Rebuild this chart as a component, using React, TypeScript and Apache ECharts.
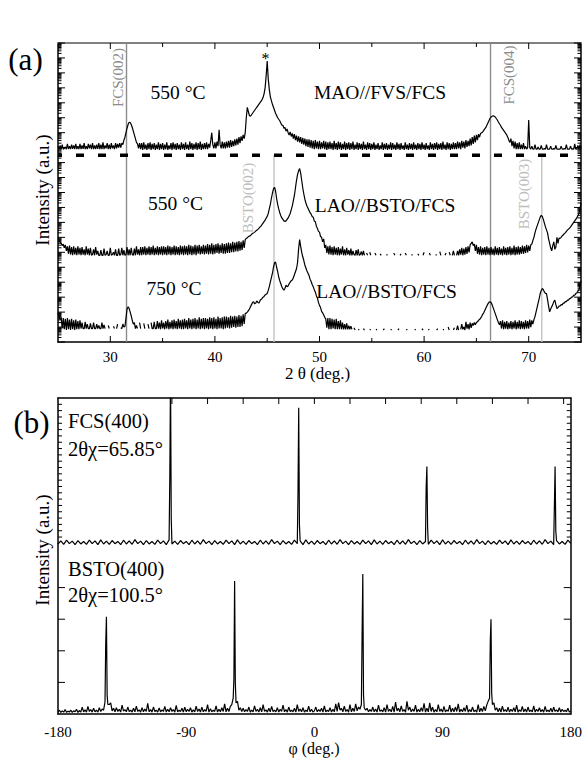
import React, { useEffect, useRef } from 'react';
import * as echarts from 'echarts';

const SERIF = '"Liberation Serif", "Times New Roman", Times, serif';

// ---------------- Panel (a): 2θ scans (log intensity in decades, curves offset) ----------------
const TT_START = 25;
const TT_STEP = 0.1;

const maoFvsFcs550 = [
  13.1, 12.9, 13.15, 12.9, 13.2, 12.9, 12.95, 13.05, 12.9, 13.25, 12.9, 13.1, 12.9, 13.2, 12.92, 13.15, 12.9, 13.25, 12.9, 13.1,
  12.9, 13.25, 12.9, 13.15, 12.92, 13.3, 12.9, 13.1, 12.9, 13.25, 12.95, 13.2, 12.9, 13.3, 12.9, 13.15, 12.9, 13.2, 12.92, 13.3,
  12.9, 13.2, 12.9, 13.35, 12.9, 13.15, 12.95, 13.3, 12.9, 13.2, 12.9, 13.3, 12.95, 13.15, 12.9, 13.3, 12.95, 13.25, 13.0, 13.3,
  13.0, 13.3, 13.2, 13.5, 13.7, 14.0, 14.3, 14.55, 14.7, 14.68, 14.55, 14.35, 14.1, 13.85, 13.6, 13.35, 13.25, 12.95, 13.3, 12.9,
  13.3, 12.85, 13.35, 12.9, 13.2, 12.85, 13.3, 12.9, 13.35, 12.85, 13.25, 12.9, 13.3, 12.85, 13.2, 12.9, 13.35, 12.85, 13.25, 12.9,
  13.3, 12.85, 13.2, 12.9, 13.35, 12.85, 13.15, 12.9, 13.3, 12.85, 13.35, 12.9, 13.25, 12.85, 13.3, 12.9, 13.2, 12.85, 13.35, 12.9,
  13.25, 12.85, 13.35, 12.9, 13.2, 12.85, 13.4, 12.9, 13.3, 12.85, 13.25, 12.9, 13.35, 12.85, 13.3, 12.9, 13.4, 12.85, 13.25, 12.9,
  13.3, 12.9, 13.35, 12.9, 13.25, 13.0, 13.45, 14.0, 13.2, 12.95, 13.35, 12.95, 13.4, 13.1, 14.2, 13.2, 12.95, 13.4, 12.95, 13.35,
  12.95, 13.4, 13.0, 13.45, 13.0, 13.5, 13.05, 13.45, 13.1, 13.55, 13.15, 13.6, 13.2, 13.7, 13.3, 13.75, 13.45, 13.85, 13.6, 14.0,
  15.0, 15.7, 15.4, 15.15, 15.1, 15.2, 15.3, 15.4, 15.5, 15.6, 15.7, 15.8, 15.9, 16.0, 16.1, 16.2, 16.35, 16.6, 17.0, 17.8,
  18.8, 17.6, 16.9, 16.4, 16.15, 15.9, 15.7, 15.5, 15.3, 15.15, 15.0, 14.9, 14.8, 14.65, 14.5, 14.5, 14.3, 14.35, 14.1, 14.25,
  14.0, 13.85, 14.05, 13.75, 13.95, 13.6, 13.9, 13.5, 13.8, 13.4, 13.75, 13.35, 13.7, 13.25, 13.65, 13.2, 13.6, 13.1, 13.55, 13.05,
  13.55, 13.0, 13.5, 12.95, 13.45, 12.9, 13.5, 12.95, 13.4, 12.9, 13.45, 12.9, 13.35, 12.95, 13.45, 12.9, 13.4, 12.85, 13.35, 12.9,
  13.4, 12.9, 13.3, 12.85, 13.45, 12.9, 13.3, 12.85, 13.4, 12.9, 13.35, 12.85, 13.25, 12.9, 13.4, 12.85, 13.3, 12.9, 13.35, 12.85,
  13.3, 12.9, 13.4, 12.85, 13.2, 12.9, 13.35, 12.85, 13.3, 12.9, 13.25, 12.85, 13.4, 12.9, 13.2, 12.85, 13.35, 12.9, 13.3, 12.85,
  13.25, 12.9, 13.35, 12.85, 13.2, 12.9, 13.3, 12.85, 13.15, 12.9, 13.35, 12.85, 13.25, 12.9, 13.3, 12.85, 13.2, 12.9, 13.35, 12.85,
  13.3, 12.9, 13.2, 12.85, 13.35, 12.9, 13.25, 12.85, 13.3, 12.9, 13.15, 12.85, 13.35, 12.9, 13.2, 12.85, 13.3, 12.9, 13.25, 12.85,
  13.35, 12.9, 13.2, 12.85, 13.3, 12.9, 13.25, 12.85, 13.35, 12.9, 13.2, 12.85, 13.3, 12.9, 13.15, 12.85, 13.35, 12.9, 13.25, 12.85,
  13.3, 12.9, 13.35, 12.85, 13.25, 12.9, 13.3, 12.85, 13.4, 12.9, 13.2, 12.85, 13.35, 12.9, 13.3, 12.85, 13.25, 12.9, 13.35, 12.9,
  13.3, 12.9, 13.4, 12.95, 13.35, 12.9, 13.45, 13.0, 13.4, 12.95, 13.5, 13.05, 13.45, 13.1, 13.6, 13.15, 13.7, 13.25, 13.8, 13.35,
  13.85, 13.5, 13.9, 13.7, 13.95, 14.0, 14.05, 14.15, 14.25, 14.35, 14.5, 14.65, 14.8, 14.95, 15.05, 15.1, 15.13, 15.1, 15.05, 14.95,
  14.85, 14.72, 14.6, 14.5, 14.35, 14.25, 14.15, 14.05, 13.95, 13.85, 13.7, 13.5, 13.35, 13.6, 13.1, 13.45, 12.95, 13.4, 12.9, 13.3,
  12.9, 13.35, 12.9, 13.2, 12.9, 13.3, 12.9, 13.1, 12.9, 13.0, 14.85, 13.0, 12.9, 13.1, 12.9, 12.9, 13.2, 12.9, 12.9, 13.05,
  12.9, 12.9, 13.15, 12.9, 12.9, 12.95, 12.9, 13.2, 12.9, 12.9, 12.9, 13.1, 12.9, 12.9, 12.95, 12.9, 13.15, 12.9, 12.9, 12.9,
  12.9, 13.1, 12.9, 12.9, 12.95, 12.9, 13.2, 12.9, 12.9, 12.9, 13.1, 12.9, 12.92, 12.9, 13.25, 12.9, 12.9, 13.15, 12.9, 13.2,
  12.95,
];

const laoBstoFcs550 = [
  6.93, 6.8, 6.7, 6.6, 6.45, 6.55, 6.3, 6.5, 6.1, 6.4, 5.9, 6.45, 5.85, 6.35, 5.8, 6.4, 5.85, 6.3, 5.8, 6.4,
  5.85, 6.3, 5.8, 6.35, 5.85, 6.2, 5.8, 6.4, 5.85, 6.25, 5.8, 6.3, 5.8, 5.85, 6.2, 5.8, 6.35, 5.85, 6.1, 5.8,
  5.8, 6.15, 5.8, 5.8, 6.25, 5.8, 5.85, 6.1, 5.8, 5.8, 6.3, 5.8, 5.85, 6.0, 5.8, 6.2, 5.8, 5.8, 6.25, 5.8,
  5.85, 6.3, 5.8, 6.15, 5.8, 5.85, 6.35, 5.8, 6.2, 5.8, 6.3, 5.85, 5.8, 6.25, 5.8, 6.4, 5.85, 6.2, 5.8, 6.35,
  5.8, 6.35, 5.85, 6.4, 5.8, 6.3, 5.85, 6.4, 5.8, 6.35, 5.85, 6.45, 5.8, 6.3, 5.85, 6.4, 5.8, 6.35, 5.85, 6.4,
  5.8, 6.4, 5.85, 6.35, 5.8, 6.45, 5.85, 6.4, 5.8, 6.35, 5.85, 6.45, 5.8, 6.4, 5.85, 6.35, 5.8, 6.45, 5.85, 6.4,
  5.8, 6.45, 5.85, 6.4, 5.8, 6.5, 5.85, 6.45, 5.8, 6.4, 5.85, 6.5, 5.8, 6.45, 5.9, 6.5, 5.85, 6.4, 5.9, 6.5,
  5.85, 6.45, 5.9, 6.55, 5.85, 6.5, 5.9, 6.6, 5.85, 6.5, 5.9, 6.55, 5.95, 6.6, 5.9, 6.5, 5.95, 6.6, 5.9, 6.55,
  5.9, 6.6, 5.95, 6.65, 5.95, 6.6, 6.0, 6.7, 6.0, 6.65, 6.05, 6.7, 6.05, 6.75, 6.1, 6.7, 6.15, 6.8, 6.3, 6.85,
  6.93, 6.98, 7.05, 7.08, 7.12, 7.2, 7.25, 7.3, 7.35, 7.42, 7.47, 7.53, 7.6, 7.68, 7.75, 7.85, 7.95, 8.05, 8.15, 8.28,
  8.4, 8.6, 8.9, 9.2, 9.6, 9.95, 10.25, 10.35, 10.1, 9.6, 9.2, 8.9, 8.65, 8.45, 8.3, 8.2, 8.1, 8.07, 8.1, 8.2,
  8.3, 8.45, 8.6, 8.85, 9.1, 9.45, 9.8, 10.3, 10.8, 11.2, 11.45, 11.6, 11.3, 10.8, 10.3, 9.9, 9.55, 9.3, 9.1, 8.95,
  8.8, 8.65, 8.55, 8.4, 8.35, 8.1, 8.05, 7.75, 7.6, 7.4, 7.35, 7.05, 7.0, 6.7, 6.9, 6.3, 6.5, 5.95, 6.4, 5.85,
  6.45, 5.85, 6.35, 5.8, 6.4, 5.85, 6.3, 5.8, 6.35, 5.8, 6.25, 5.85, 6.4, 5.8, 6.2, 5.8, 6.3, 5.85, 6.15, 5.8,
  6.25, 5.8, 6.1, 5.85, 5.8, 6.15, 5.8, 6.2, 5.8, 5.85, 6.05, 5.8, 6.1, 5.8, null, 5.95, 5.8, null, 6.0, 5.8,
  null, null, null, 5.95, 5.8, null, null, null, 5.9, 5.8, null, null, null, null, 5.85, 5.8, null, null, null, null,
  null, 5.95, 5.8, null, null, null, null, 5.8, 5.9, null, null, null, 5.95, 5.8, null, null, null, null, 5.85, 5.8,
  null, null, null, null, 5.9, 5.8, null, null, null, 5.8, 6.0, null, null, null, null, 5.95, 5.8, null, null, null,
  null, 5.85, 5.8, null, null, 6.05, 5.8, null, null, null, 5.8, 5.95, null, null, 6.0, 5.8, null, 5.8, 6.1, 5.8,
  null, 5.8, 6.1, 5.8, 6.2, 5.85, 6.3, 5.8, 6.25, 5.85, 6.35, 5.9, 6.4, 6.0, 6.5, 6.6, 6.7, 6.45, 6.55, 6.1,
  6.5, 5.9, 6.35, 5.85, 6.4, 5.8, 6.3, 5.85, 6.35, 5.8, 6.4, 5.85, 6.3, 5.8, 6.35, 5.85, 6.25, 5.8, 6.4, 5.85,
  6.3, 5.8, 6.35, 5.85, 6.25, 5.8, 6.4, 5.85, 6.3, 5.8, 6.35, 5.85, 6.4, 5.8, 6.3, 5.85, 6.45, 5.8, 6.35, 5.85,
  6.4, 5.85, 6.35, 5.9, 6.45, 5.9, 6.4, 5.95, 6.5, 6.0, 6.45, 6.1, 6.5, 6.55, 6.8, 7.0, 7.3, 7.55, 7.75, 7.95,
  8.15, 8.35, 8.47, 8.4, 8.2, 7.95, 7.7, 7.5, 7.3, 6.9, 6.6, 6.3, 6.1, 6.45, 6.7, 6.2, 6.35, 7.0, 6.6, 6.95,
  6.93, 7.0, 7.1, 7.15, 7.25, 7.3, 7.4, 7.48, 7.55, 7.62, 7.7, 7.8, 7.9, 8.0, 8.1, 8.2, 8.3, 8.45, 8.6, 8.9,
  9.3,
];

const laoBstoFcs750 = [
  1.93, 1.7, 1.5, 1.65, 0.9, 1.6, 0.85, 1.55, 0.8, 1.6, 0.85, 1.5, 0.8, 1.55, 0.85, 1.45, 0.8, 1.5, 0.85, 1.4,
  0.85, 1.45, 0.9, 1.3, 0.9, 0.9, 1.35, 0.9, 1.2, 0.9, 0.9, 1.25, 0.9, 0.9, 1.3, 0.9, 0.9, 1.2, 0.9, 1.1,
  0.9, 0.9, 1.3, 0.9, 1.15, 0.9, null, null, 1.1, 0.9, null, null, null, 1.05, 0.9, null, 0.9, 1.2, null, null,
  0.95, 0.9, 1.2, 1.0, 1.05, 1.6, 2.2, 2.35, 2.25, 2.0, 1.75, 1.45, 1.2, 1.3, 0.9, 1.1, 0.9, null, 1.3, 0.9,
  null, null, 1.25, 0.9, null, null, 1.2, 0.9, null, 1.3, 0.9, 0.9, 1.35, 0.9, 0.9, 1.4, 0.9, 1.3, 0.85, 1.45,
  0.9, 1.3, 0.85, 1.4, 0.9, 1.5, 0.85, 1.35, 0.9, 1.45, 0.85, 1.5, 0.9, 1.4, 0.85, 1.55, 0.9, 1.45, 0.85, 1.5,
  0.85, 1.55, 0.9, 1.45, 0.85, 1.6, 0.9, 1.5, 0.85, 1.55, 0.9, 1.6, 0.85, 1.5, 0.9, 1.65, 0.85, 1.55, 0.9, 1.6,
  0.85, 1.6, 0.9, 1.55, 0.85, 1.65, 0.9, 1.6, 0.85, 1.65, 0.9, 1.55, 0.85, 1.7, 0.9, 1.6, 0.9, 1.65, 0.85, 1.7,
  0.9, 1.7, 0.95, 1.65, 0.9, 1.75, 0.95, 1.7, 1.0, 1.75, 0.95, 1.7, 1.0, 1.8, 1.0, 1.75, 1.05, 1.85, 1.2, 1.9,
  1.93, 2.0, 2.1, 2.2, 2.35, 2.5, 2.65, 2.7, 2.55, 2.6, 2.75, 2.65, 2.6, 2.75, 2.85, 2.9, 3.0, 3.05, 3.15, 3.2,
  3.25, 3.45, 3.7, 4.0, 4.3, 4.6, 5.0, 5.3, 5.35, 5.0, 4.7, 4.35, 4.1, 3.9, 3.7, 3.55, 3.47, 3.6, 3.8, 3.7,
  3.75, 3.9, 4.0, 4.1, 4.15, 4.3, 4.5, 4.7, 4.9, 5.3, 6.2, 6.85, 6.4, 6.0, 5.7, 5.45, 5.15, 4.95, 4.75, 4.6,
  4.45, 4.2, 4.05, 3.85, 3.7, 3.5, 3.35, 3.1, 2.95, 2.65, 2.45, 2.3, 2.05, 1.95, 1.8, 1.65, 1.55, 0.95, 1.6, 0.85,
  1.6, 0.85, 1.55, 0.9, 1.5, 0.85, 1.55, 0.85, 1.4, 0.85, 1.45, 0.85, 1.3, 0.85, 1.2, 0.85, 1.25, 0.85, 1.1, 0.85,
  1.05, 0.85, null, 0.95, 0.8, null, null, 0.85, 0.8, null, null, null, 0.9, 0.8, null, null, null, null, 0.85, 0.8,
  null, null, null, null, 0.85, 0.8, null, null, null, null, null, 0.8, 0.9, null, null, null, null, null, 0.85, 0.8,
  null, null, null, null, null, 0.8, 0.9, null, null, null, null, null, null, 0.85, 0.8, null, null, null, null, null,
  null, 0.85, 0.8, null, null, null, null, null, 0.9, 0.8, null, null, null, null, 0.8, 0.85, null, null, null, null,
  null, null, 0.8, 0.9, null, null, null, null, 0.85, 0.8, null, null, null, 1.0, 0.8, null, null, null, 0.8, 0.95,
  null, 0.8, 1.1, 0.8, null, 0.85, 1.2, 0.85, 1.0, 0.8, 1.35, 0.9, 1.2, 0.85, 1.3, 0.95, 1.25, 1.1, 1.3, 1.15,
  1.3, 1.35, 1.45, 1.5, 1.6, 1.7, 1.85, 1.95, 2.1, 2.25, 2.4, 2.55, 2.65, 2.69, 2.65, 2.5, 2.3, 2.1, 1.9, 1.7,
  1.5, 1.3, 1.15, 1.4, 0.9, 1.45, 0.85, 1.35, 0.9, 1.4, 0.85, 1.3, 0.9, 1.4, 0.85, 1.35, 0.9, 1.45, 0.85, 1.35,
  0.9, 1.45, 0.85, 1.4, 0.9, 1.35, 0.85, 1.45, 0.9, 1.4, 0.9, 1.5, 1.0, 1.45, 1.2, 1.5, 1.7, 2.0, 2.3, 2.6,
  2.9, 3.24, 3.45, 3.58, 3.5, 3.35, 3.25, 3.24, 2.85, 2.4, 2.02, 2.2, 2.35, 2.5, 2.7, 2.8, 2.5, 2.24, 2.3, 2.4,
  2.42, 2.5, 2.48, 2.6, 2.6, 2.7, 2.7, 2.8, 2.8, 2.9, 2.92, 3.0, 3.02, 3.12, 3.14, 3.24, 3.28, 3.4, 3.47, 3.75,
  4.1,
];

const refLinesA = [
  { x: 31.55, top: 20, color: '#8c8c8c' },
  { x: 66.35, top: 20, color: '#8c8c8c' },
  { x: 45.65, top: 12.5, color: '#c4c4c4' },
  { x: 71.25, top: 12.5, color: '#c4c4c4' },
];
const separatorA = 12.5;
const xTicksA = [30, 35, 40, 45, 50, 55, 60, 65, 70];
const DECADES_A = 20;
const LOG_MINOR = [2, 3, 4, 5, 6, 7, 8, 9];

// ---------------- Panel (b): φ scans ----------------
const PHI_START = -180;
const FCS_STEP = 2;
const BSTO_STEP = 1;

const fcs400Base = [
  5.38, 5.48, 5.37, 5.50, 5.39, 5.47, 5.36, 5.49, 5.38, 5.46,
  5.37, 5.50, 5.39, 5.48, 5.36, 5.51, 5.38, 5.47, 5.37, 5.49,
  5.39, 5.46, 5.36, 5.50, 5.38, 5.48, 5.37, 5.52, 5.39, 5.47,
  5.36, 5.49, 5.38, 5.46, 5.37, 5.50, 5.39, 5.48, 5.36, 5.51,
  5.38, 5.47, 5.37, 5.49, 5.39, 5.46, 5.36, 5.50, 5.38, 5.48,
  5.37, 5.52, 5.39, 5.47, 5.36, 5.49, 5.38, 5.46, 5.37, 5.50,
  5.39, 5.48, 5.36, 5.51, 5.38, 5.47, 5.37, 5.49, 5.39, 5.46,
  5.36, 5.50, 5.38, 5.48, 5.37, 5.52, 5.39, 5.47, 5.36, 5.49,
  5.38, 5.46, 5.37, 5.50, 5.39, 5.48, 5.36, 5.51, 5.38, 5.47,
  5.37, 5.49, 5.39, 5.46, 5.36, 5.50, 5.38, 5.48, 5.37, 5.52,
  5.39, 5.47, 5.36, 5.49, 5.38, 5.46, 5.37, 5.50, 5.39, 5.48,
  5.36, 5.51, 5.38, 5.47, 5.37, 5.49, 5.39, 5.46, 5.36, 5.50,
  5.38, 5.48, 5.37, 5.52, 5.39, 5.47, 5.36, 5.49, 5.38, 5.46,
  5.37, 5.50, 5.39, 5.48, 5.36, 5.51, 5.38, 5.47, 5.37, 5.49,
  5.39, 5.46, 5.36, 5.50, 5.38, 5.48, 5.37, 5.52, 5.39, 5.47,
  5.36, 5.49, 5.38, 5.46, 5.37, 5.50, 5.39, 5.48, 5.36, 5.51,
  5.38, 5.47, 5.37, 5.49, 5.39, 5.46, 5.36, 5.50, 5.38, 5.48,
  5.37, 5.52, 5.39, 5.47, 5.36, 5.49, 5.38, 5.46, 5.37, 5.50,
  5.40,
];
const fcs400Peaks = [
  [-101.5, 7.5], [-101, 10.8], [-100.5, 6.2],
  [-11.5, 7.0], [-11, 9.69], [-10.5, 6.0],
  [78.5, 7.2], [79, 7.83], [79.5, 5.9],
  [168.5, 6.56], [169, 7.83], [169.5, 5.8],
];

const bsto400Base = [
  0.06, 0.12, 0.05, 0.10, 0.06, 0.14, 0.05, 0.09, 0.06, 0.12,
  0.05, 0.10, 0.07, 0.15, 0.05, 0.11, 0.06, 0.22, 0.07, 0.13,
  0.06, 0.24, 0.08, 0.14, 0.06, 0.18, 0.07, 0.12, 0.06, 0.20,
  0.08, 0.16, 0.12, 0.38, 0.45, 0.30, 0.30, 0.35, 0.10, 0.18,
  0.07, 0.20, 0.08, 0.15, 0.06, 0.28, 0.09, 0.14, 0.07, 0.22,
  0.08, 0.12, 0.06, 0.18, 0.07, 0.25, 0.08, 0.13, 0.06, 0.20,
  0.07, 0.16, 0.08, 0.34, 0.07, 0.14, 0.06, 0.22, 0.08, 0.12,
  0.06, 0.19, 0.07, 0.13, 0.08, 0.24, 0.06, 0.15, 0.07, 0.20,
  0.08, 0.14, 0.06, 0.27, 0.07, 0.12, 0.08, 0.18, 0.06, 0.22,
  0.07, 0.15, 0.08, 0.20, 0.06, 0.13, 0.07, 0.25, 0.08, 0.16,
  0.06, 0.22, 0.07, 0.14, 0.08, 0.30, 0.06, 0.17, 0.07, 0.12,
  0.08, 0.26, 0.06, 0.15, 0.07, 0.20, 0.08, 0.32, 0.07, 0.18,
  0.08, 0.24, 0.30, 0.50, 0.40, 0.35, 0.40, 0.12, 0.20, 0.08,
  0.18, 0.07, 0.14, 0.08, 0.22, 0.06, 0.12, 0.07, 0.26, 0.08,
  0.15, 0.06, 0.20, 0.07, 0.30, 0.08, 0.13, 0.06, 0.18, 0.07,
  0.24, 0.08, 0.12, 0.07, 0.20, 0.06, 0.15, 0.08, 0.28, 0.07,
  0.14, 0.06, 0.22, 0.08, 0.12, 0.07, 0.18, 0.06, 0.30, 0.08,
  0.16, 0.07, 0.20, 0.06, 0.12, 0.08, 0.25, 0.07, 0.15, 0.06,
  0.10, 0.22, 0.07, 0.14, 0.08, 0.18, 0.06, 0.26, 0.07, 0.12,
  0.08, 0.20, 0.06, 0.15, 0.07, 0.32, 0.08, 0.36, 0.12, 0.18,
  0.07, 0.25, 0.08, 0.14, 0.06, 0.30, 0.07, 0.18, 0.08, 0.32,
  0.10, 0.22, 0.15, 0.30, 0.40, 0.20, 0.12, 0.18, 0.07, 0.14,
  0.08, 0.22, 0.07, 0.16, 0.06, 0.28, 0.08, 0.13, 0.07, 0.20,
  0.06, 0.30, 0.08, 0.15, 0.07, 0.24, 0.06, 0.38, 0.10, 0.18,
  0.07, 0.26, 0.08, 0.14, 0.06, 0.40, 0.12, 0.22, 0.07, 0.16,
  0.08, 0.28, 0.06, 0.15, 0.07, 0.20, 0.08, 0.34, 0.06, 0.18,
  0.07, 0.35, 0.08, 0.22, 0.06, 0.14, 0.07, 0.30, 0.08, 0.16,
  0.06, 0.24, 0.07, 0.13, 0.08, 0.28, 0.06, 0.18, 0.07, 0.22,
  0.08, 0.32, 0.06, 0.15, 0.07, 0.20, 0.08, 0.28, 0.06, 0.14,
  0.07, 0.22, 0.08, 0.12, 0.06, 0.30, 0.07, 0.18, 0.08, 0.24,
  0.10, 0.28, 0.40, 0.50, 0.40, 0.30, 0.35, 0.12, 0.20, 0.07,
  0.18, 0.06, 0.25, 0.08, 0.14, 0.07, 0.22, 0.06, 0.15, 0.08,
  0.20, 0.07, 0.28, 0.06, 0.13, 0.08, 0.24, 0.07, 0.16, 0.06,
  0.22, 0.08, 0.12, 0.07, 0.26, 0.06, 0.15, 0.08, 0.20, 0.07,
  0.14, 0.06, 0.24, 0.08, 0.12, 0.07, 0.18, 0.06, 0.22, 0.08,
  0.13, 0.07, 0.20, 0.06, 0.15, 0.08, 0.12, 0.07, 0.18, 0.06,
  0.10,
];
const bsto400Peaks = [
  [-146.5, 2.2], [-146, 3.08], [-145.5, 0.6],
  [-56.5, 1.1], [-56, 4.21], [-55.5, 1.0],
  [33.5, 2.5], [34, 4.43], [34.5, 0.6],
  [123.5, 2.29], [124, 3.0], [124.5, 0.65],
];

const xTicksBTop = [-100, -75, -50, -25, 0, 25, 50, 75, 100, 125, 150, 175];
const yTicksBsto = [1, 2, 3, 4];
const yTicksFcs = [5.6, 5.8, 6.0, 6.2, 6.4, 6.6, 6.8, 7.0, 7.2, 7.4, 7.6, 7.8, 8.0, 8.2, 8.4, 8.6, 8.8, 9.0, 9.2, 9.4, 9.6, 9.8];

// ---------------- helpers ----------------
const toPairs = (arr: (number | null)[]) =>
  arr.map((v, i) => [+(TT_START + i * TT_STEP).toFixed(2), v]);

const mergePhi = (base: number[], step: number, peaks: number[][]) => {
  const m = new Map<number, number>();
  base.forEach((v, i) => m.set(PHI_START + i * step, v));
  peaks.forEach(([x, y]) => m.set(x, y));
  return [...m.entries()].sort((a, b) => a[0] - b[0]).map(([x, y]) => [x, y]);
};

function tickSeries(xIdx: number, yIdx: number, xr: number[], yr: number[], data: number[][]) {
  return {
    type: 'custom',
    xAxisIndex: xIdx,
    yAxisIndex: yIdx,
    silent: true,
    z: 6,
    data,
    renderItem: (_params: any, api: any) => {
      const v = api.value(0);
      const len = api.value(1);
      const kind = api.value(2);
      const style = { stroke: '#000', lineWidth: 1 };
      const children: any[] = [];
      if (kind === 0) {
        const a = api.coord([xr[0], v]);
        const b = api.coord([xr[1], v]);
        children.push({ type: 'line', shape: { x1: a[0], y1: a[1], x2: a[0] + len, y2: a[1] }, style });
        children.push({ type: 'line', shape: { x1: b[0] - len, y1: b[1], x2: b[0], y2: b[1] }, style });
      } else {
        const a = api.coord([v, yr[0]]);
        const b = api.coord([v, yr[1]]);
        if (kind === 1) children.push({ type: 'line', shape: { x1: a[0], y1: a[1], x2: a[0], y2: a[1] - len }, style });
        children.push({ type: 'line', shape: { x1: b[0], y1: b[1], x2: b[0], y2: b[1] + len }, style });
      }
      return { type: 'group', children };
    },
  };
}

const txt = (text: string, x: number, y: number, size: number, o: any = {}) => ({
  type: 'text',
  x,
  y,
  rotation: o.rot || 0,
  z: 100,
  silent: true,
  style: {
    text,
    fill: o.color || '#000',
    font: `${size}px ${SERIF}`,
    fontSize: size,
    fontFamily: SERIF,
    align: o.align || 'center',
    textAlign: o.align || 'center',
    verticalAlign: 'middle',
    textVerticalAlign: 'middle',
  },
});

function buildOption() {
  const lineBase = {
    type: 'line',
    showSymbol: false,
    symbol: 'none',
    silent: true,
    animation: false,
    connectNulls: false,
  };
  const curveStyle = { color: '#000', width: 1.2 };

  const yTicksA: number[][] = [];
  for (let d = 0; d <= DECADES_A; d++) {
    yTicksA.push([d, 7, 0]);
    if (d < DECADES_A) LOG_MINOR.forEach((k) => yTicksA.push([d + Math.log10(k), 3.5, 0]));
  }
  const xTicksAData = xTicksA.map((t) => [t, t % 10 === 0 ? 6 : 4, 1]);

  const bTicks: number[][] = [
    ...xTicksBTop.map((t) => [t, 6, 2]),
    ...yTicksBsto.map((t) => [t, 7, 0]),
    ...yTicksFcs.map((t) => [t, 4, 0]),
  ];

  const axisLineBlack = { onZero: false, lineStyle: { color: '#000', width: 1.5 } };
  const hidden = { axisTick: { show: false }, axisLabel: { show: false }, splitLine: { show: false } };
  const labelStyle = { color: '#000', fontSize: 15, fontFamily: SERIF };

  return {
    animation: false,
    backgroundColor: '#ffffff',
    grid: [
      { left: 58, top: 43, width: 523, height: 299 },
      { left: 58, top: 398, width: 516, height: 316 },
    ],
    xAxis: [
      {
        gridIndex: 0, type: 'value', min: 25, max: 75, interval: 5, position: 'bottom',
        axisLine: axisLineBlack, axisTick: { show: false }, splitLine: { show: false },
        axisLabel: { ...labelStyle, margin: 7, formatter: (v: number) => (v % 10 === 0 ? String(v) : '') },
      },
      {
        gridIndex: 0, type: 'value', min: 25, max: 75, position: 'top',
        axisLine: { onZero: false, lineStyle: { color: '#808080', width: 2 } }, ...hidden,
      },
      {
        gridIndex: 1, type: 'value', min: -180, max: 180, interval: 90, position: 'bottom',
        axisLine: axisLineBlack, axisTick: { show: false }, splitLine: { show: false },
        axisLabel: { ...labelStyle, margin: 10 },
      },
      {
        gridIndex: 1, type: 'value', min: -180, max: 180, position: 'top',
        axisLine: axisLineBlack, ...hidden,
      },
    ],
    yAxis: [
      { gridIndex: 0, type: 'value', min: 0, max: 20, position: 'left', axisLine: axisLineBlack, ...hidden },
      { gridIndex: 0, type: 'value', min: 0, max: 20, position: 'right', axisLine: axisLineBlack, ...hidden },
      { gridIndex: 1, type: 'value', min: 0, max: 10, position: 'left', axisLine: axisLineBlack, ...hidden },
      { gridIndex: 1, type: 'value', min: 0, max: 10, position: 'right', axisLine: axisLineBlack, ...hidden },
    ],
    series: [
      ...refLinesA.map((r) => ({
        ...lineBase, xAxisIndex: 0, yAxisIndex: 0, z: 1,
        lineStyle: { color: r.color, width: 1.4 },
        data: [[r.x, 0], [r.x, r.top]],
      })),
      {
        ...lineBase, xAxisIndex: 0, yAxisIndex: 0, z: 3,
        lineStyle: { color: '#000', width: 3.5, type: [8, 14], dashOffset: 4, cap: 'butt' },
        data: [[25, separatorA], [75, separatorA]],
      },
      { ...lineBase, name: 'MAO//FVS/FCS 550', xAxisIndex: 0, yAxisIndex: 0, z: 2, lineStyle: curveStyle, data: toPairs(maoFvsFcs550) },
      { ...lineBase, name: 'LAO//BSTO/FCS 550', xAxisIndex: 0, yAxisIndex: 0, z: 2, lineStyle: curveStyle, data: toPairs(laoBstoFcs550) },
      { ...lineBase, name: 'LAO//BSTO/FCS 750', xAxisIndex: 0, yAxisIndex: 0, z: 2, lineStyle: curveStyle, data: toPairs(laoBstoFcs750) },
      tickSeries(0, 0, [25, 75], [0, 20], [...yTicksA, ...xTicksAData]),
      { ...lineBase, name: 'FCS(400)', xAxisIndex: 2, yAxisIndex: 2, z: 2, lineStyle: curveStyle, data: mergePhi(fcs400Base, FCS_STEP, fcs400Peaks) },
      { ...lineBase, name: 'BSTO(400)', xAxisIndex: 2, yAxisIndex: 2, z: 2, lineStyle: curveStyle, data: mergePhi(bsto400Base, BSTO_STEP, bsto400Peaks) },
      tickSeries(2, 2, [-180, 180], [0, 10], bTicks),
    ],
    graphic: [
      txt('(a)', 25.5, 59, 31),
      txt('(b)', 31.5, 422, 31),
      txt('FCS(002)', 117.5, 77.5, 15, { rot: Math.PI / 2, color: '#8c8c8c' }),
      txt('FCS(004)', 508.5, 75, 15, { rot: Math.PI / 2, color: '#8c8c8c' }),
      txt('BSTO(002)', 247.5, 198, 15, { rot: Math.PI / 2, color: '#bdbdbd' }),
      txt('BSTO(003)', 524, 194, 15, { rot: Math.PI / 2, color: '#bdbdbd' }),
      txt('*', 265.5, 58, 16),
      txt('550 °C', 178, 92, 19.5),
      txt('MAO//FVS/FCS', 380, 92, 19.5),
      txt('550 °C', 175.5, 203.5, 19.5),
      txt('LAO//BSTO/FCS', 385, 205, 19.5),
      txt('750 °C', 174, 288.5, 19.5),
      txt('LAO//BSTO/FCS', 386.5, 291.5, 19.5),
      txt('2 θ (deg.)', 317.5, 373, 17),
      txt('Intensity (a.u.)', 42, 190, 19, { rot: Math.PI / 2 }),
      txt('Intensity (a.u.)', 42, 550, 19, { rot: Math.PI / 2 }),
      txt('FCS(400)', 68, 421, 20.5, { align: 'left' }),
      txt('2θχ=65.85°', 68, 449, 20.5, { align: 'left' }),
      txt('BSTO(400)', 68, 569, 20.5, { align: 'left' }),
      txt('2θχ=100.5°', 68, 595, 20.5, { align: 'left' }),
      txt('φ (deg.)', 314, 748, 16),
    ],
  };
}

export default function App() {
  const ref = useRef<HTMLDivElement>(null);
  useEffect(() => {
    document.body.style.margin = '0';
    const chart = echarts.init(ref.current as HTMLDivElement, undefined, { renderer: 'svg' });
    chart.setOption(buildOption() as any);
    return () => chart.dispose();
  }, []);
  return (
    <div
      ref={ref}
      style={{ position: 'fixed', left: 0, top: 0, width: 585, height: 758, background: '#fff' }}
    />
  );
}
